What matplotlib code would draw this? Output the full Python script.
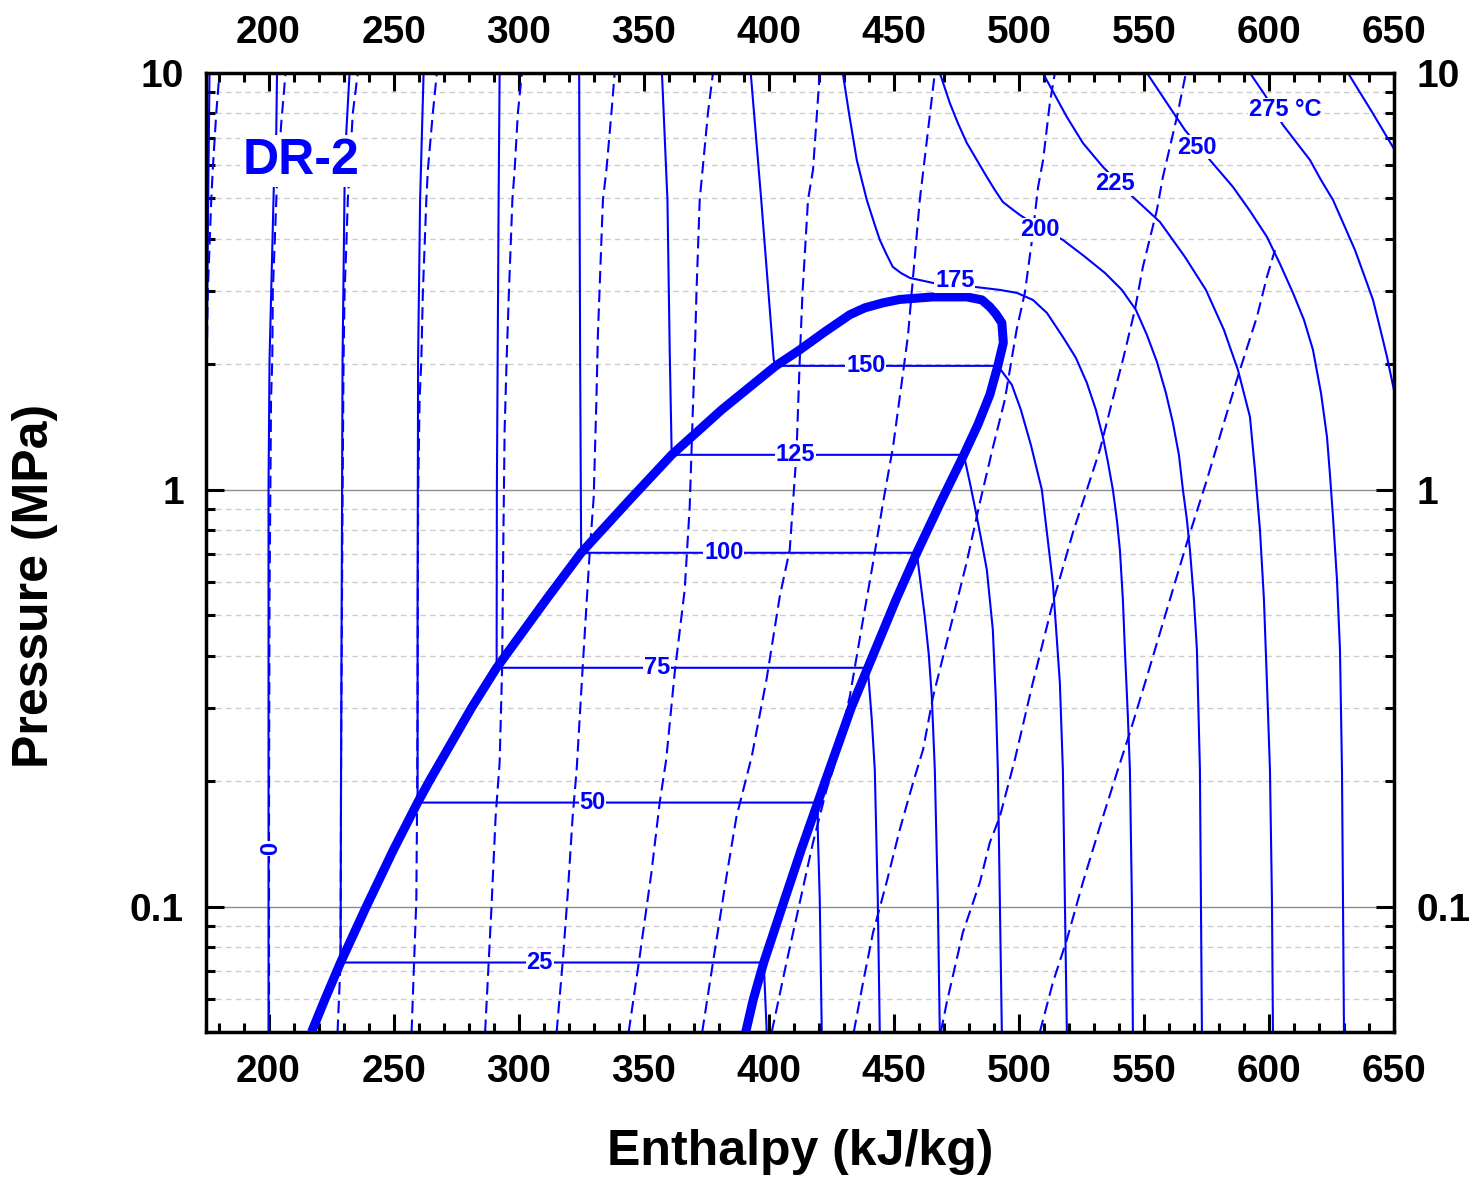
import numpy as np
import matplotlib
matplotlib.use("Agg")
import matplotlib.pyplot as plt
from matplotlib.ticker import LogLocator, MultipleLocator, FixedLocator, FixedFormatter, NullFormatter

plt.rcParams['font.family'] = ['Liberation Sans', 'DejaVu Sans']
plt.rcParams['font.weight'] = 'bold'

BLUE = '#0000ff'

# saturation dome (liquid side up over the top and back down the vapour side)
dome_h = [217.2, 222.5, 228.8, 239.1, 250.0, 259.6, 264.3, 281.2, 291.2, 311.0,
          325.0, 344.4, 361.2, 381.2, 402.8, 412.4, 422.4, 432.4, 438.4, 445.6,
          452.4, 465.6, 479.2, 485.2, 488.4, 490.8, 493.2, 493.8, 491.6, 488.4,
          483.6, 478.0, 469.2, 459.2, 450.9, 439.6, 433.0, 422.6, 419.6, 413.0,
          405.4, 398.0, 393.8, 390.8]
dome_p = [0.05, 0.0598, 0.0734, 0.1, 0.137, 0.1776, 0.2, 0.3, 0.374, 0.545,
          0.706, 0.946, 1.213, 1.556, 1.983, 2.166, 2.393, 2.63, 2.732, 2.808,
          2.862, 2.902, 2.902, 2.855, 2.747, 2.643, 2.515, 2.252, 1.983, 1.69,
          1.432, 1.213, 0.946, 0.706, 0.545, 0.374, 0.3, 0.2, 0.1776, 0.137,
          0.1, 0.0734, 0.0598, 0.05]

# isotherms, deg C
t_m25_h = [174.0, 175.2, 176.4]
t_m25_p = [0.05, 2.0, 10]
t0_h = [200.0, 200.0, 200.4, 202.1, 203.1, 203.4]
t0_p = [0.05, 1.0, 2.05, 5.3, 7.22, 10]
t25_h = [232.4, 231.1, 230.4, 229.6, 229.0, 228.8, 398.0, 399.2]
t25_p = [10, 7.22, 5.3, 2.05, 0.2131, 0.0734, 0.0734, 0.05]
t50_h = [262.0, 260.6, 259.8, 259.6, 259.6, 419.6, 419.6, 420.4, 421.2]
t50_p = [10, 4.96, 2.05, 0.545, 0.1776, 0.1776, 0.153, 0.1039, 0.05]
t75_h = [292.4, 292.0, 291.6, 291.3, 291.2, 439.6, 441.2, 442.4, 443.6, 444.4]
t75_p = [10, 5.0, 2.0, 1.0, 0.374, 0.374, 0.2809, 0.2131, 0.1039, 0.05]
t100_h = [324.2, 324.6, 325.0, 459.2, 460.8, 462.4, 464.0, 465.2, 466.4, 467.6, 468.4]
t100_p = [10, 2.0, 0.706, 0.706, 0.5916, 0.4958, 0.4019, 0.3189, 0.2131, 0.1039, 0.05]
t125_h = [357.3, 359.5, 360.4, 361.2, 478.0, 480.6, 483.2, 485.2, 487.2, 488.4,
          489.6, 490.8, 491.6, 492.4, 493.2]
t125_p = [10, 4.96, 2.17, 1.213, 1.213, 1.028, 0.8616, 0.7463, 0.6428, 0.545,
          0.4616, 0.3137, 0.2131, 0.1039, 0.05]
t150_h = [392.8, 397.0, 402.0, 402.8, 491.6, 497.2, 500.8, 504.8, 509.2, 513.6,
          516.4, 517.6, 518.4, 519.2]
t150_p = [10, 4.96, 2.05, 1.983, 1.983, 1.786, 1.556, 1.282, 1.0, 0.598,
          0.3445, 0.2131, 0.1039, 0.05]
t175_h = [429.6, 432.2, 435.2, 439.2, 442.4, 444.4, 447.2, 449.6, 452.8, 456.4,
          465.6, 474.4, 482.4, 492.4, 499.2, 505.6, 511.2, 517.6, 522.8, 527.2,
          530.8, 533.6, 535.6, 537.6, 539.2, 540.4, 541.6, 542.4, 543.6, 544.4,
          545.2, 545.6]
t175_p = [10, 7.93, 6.184, 4.96, 4.32, 3.977, 3.66, 3.426, 3.314, 3.224,
          3.136, 3.101, 3.067, 3.017, 2.968, 2.855, 2.658, 2.327, 2.073, 1.805,
          1.556, 1.34, 1.167, 1.0, 0.847, 0.718, 0.545, 0.4134, 0.2855, 0.2131,
          0.1039, 0.05]
t200_h = [468.4, 472.4, 475.6, 479.2, 483.2, 487.2, 490.4, 493.6, 497.2, 500.4,
          508.4, 517.6, 526.0, 534.4, 541.2, 546.8, 551.2, 555.2, 558.8, 561.6,
          564.0, 565.6, 567.2, 568.4, 570.0, 571.2, 572.4, 572.8, 573.2]
t200_p = [10, 8.472, 7.588, 6.794, 6.184, 5.631, 5.241, 4.905, 4.719, 4.565,
          4.249, 3.977, 3.64, 3.314, 3.017, 2.702, 2.353, 2.028, 1.708, 1.448,
          1.213, 1.0, 0.847, 0.718, 0.545, 0.4134, 0.2131, 0.1039, 0.05]
t225_h = [509.6, 514.4, 519.2, 525.6, 533.6, 545.6, 556.4, 566.4, 574.8, 582.0,
          587.6, 592.4, 594.4, 596.4, 598.0, 599.2, 600.4, 601.2, 601.6]
t225_p = [10, 8.855, 7.843, 6.794, 5.953, 5.042, 4.392, 3.621, 3.017, 2.419,
          1.939, 1.497, 1.117, 0.802, 0.545, 0.3445, 0.2131, 0.1039, 0.05]
t250_h = [551.2, 559.2, 566.4, 576.4, 585.6, 592.4, 599.2, 604.4, 609.6, 614.0,
          617.6, 620.8, 623.2, 624.4, 625.6, 627.2, 628.4, 628.8, 629.2, 629.6, 630.0]
t250_p = [10, 8.472, 7.30, 6.184, 5.33, 4.668, 4.044, 3.483, 2.968, 2.557,
          2.166, 1.708, 1.34, 1.086, 0.8616, 0.6083, 0.4134, 0.2968, 0.2131, 0.1039, 0.05]
t275_h = [592.4, 598.4, 605.6, 616.4, 620.8, 625.6, 630.0, 634.4, 638.0, 641.6,
          644.4, 647.2, 650.8]
t275_p = [10, 8.855, 7.505, 6.184, 5.538, 4.96, 4.32, 3.76, 3.279, 2.855,
          2.446, 2.084, 1.644]
t300_h = [631.6, 641.0, 650.5]
t300_p = [10, 8.1, 6.5]

isotherms = [(t_m25_h, t_m25_p), (t0_h, t0_p), (t25_h, t25_p), (t50_h, t50_p),
             (t75_h, t75_p), (t100_h, t100_p), (t125_h, t125_p), (t150_h, t150_p),
             (t175_h, t175_p), (t200_h, t200_p), (t225_h, t225_p), (t250_h, t250_p),
             (t275_h, t275_p), (t300_h, t300_p)]

# isentropes (dashed)
s1_h = [175.2, 175.3, 175.7, 176.4, 177.1, 177.7, 179.1, 180.4]
s1_p = [0.05, 2.05, 2.968, 3.826, 4.96, 5.853, 8.018, 10]
s2_h = [200.2, 200.2, 200.4, 201.0, 201.5, 201.7, 202.4, 203.3, 205.1, 206.8]
s2_p = [0.05, 0.1805, 0.545, 1.644, 2.05, 2.968, 3.826, 5.3, 7.588, 10]
s3_h = [227.6, 228.8, 229.0, 229.6, 230.0, 230.4, 231.1, 231.7, 232.4, 233.7, 235.7]
s3_p = [0.05, 0.0734, 0.2131, 0.946, 2.05, 2.968, 3.826, 4.96, 5.853, 8.018, 10]
s4_h = [257.2, 259.1, 259.4, 259.6, 259.8, 260.4, 261.1, 261.7, 262.4, 263.1, 263.7, 265.7, 267.3]
s4_p = [0.05, 0.1039, 0.1776, 0.3137, 0.946, 1.644, 2.05, 2.968, 3.826, 4.96, 5.853, 8.018, 10]
s5_h = [286.6, 289.1, 290.8, 292.4, 293.4, 293.8, 294.4, 295.2, 296.1, 296.8, 297.5, 298.4, 299.7, 301.3]
s5_p = [0.05, 0.0984, 0.1643, 0.2215, 0.374, 0.6795, 1.393, 2.05, 2.968, 3.826, 4.96, 5.853, 8.018, 10]
s6_h = [315.2, 317.6, 319.6, 321.6, 323.2, 325.6, 328.4, 330.0, 331.1, 331.7, 333.7, 335.1, 337.1, 338.4]
s6_p = [0.05, 0.0734, 0.1066, 0.1643, 0.2131, 0.374, 0.706, 0.9566, 1.644, 2.366, 4.96, 5.853, 8.018, 10]
s7_h = [344.0, 348.4, 353.1, 356.4, 359.0, 362.4, 366.4, 368.4, 369.7, 370.6, 371.1, 372.4, 375.7, 377.7]
s7_p = [0.05, 0.0759, 0.1207, 0.1776, 0.2252, 0.364, 0.5757, 0.9105, 1.581, 2.289, 2.968, 4.96, 8.018, 10]
s8_h = [373.4, 377.7, 383.1, 387.1, 393.2, 399.1, 404.4, 408.4, 411.1, 412.4, 413.5, 415.7, 417.7, 420.4]
s8_p = [0.05, 0.0734, 0.118, 0.1643, 0.229, 0.3503, 0.554, 0.718, 1.227, 2.05, 2.968, 4.96, 5.853, 10]
s9_h = [401.2, 407.1, 412.4, 417.7, 423.1, 425.7, 432.4, 437.7, 441.7, 445.7, 449.7,
        453.7, 455.7, 457.7, 460.4, 463.1, 466.4]
s9_p = [0.05, 0.0734, 0.1022, 0.1424, 0.1908, 0.2131, 0.3189, 0.4879, 0.668, 0.931, 1.268,
        1.908, 2.353, 3.242, 4.96, 6.794, 10]
s10_h = [434.0, 437.7, 441.7, 447.1, 452.4, 457.7, 461.7, 465.7, 472.4, 479.1, 484.4,
         489.7, 494.4, 499.1, 502.4, 505.1, 507.7, 509.7, 512.4, 514.4]
s10_p = [0.05, 0.0657, 0.0866, 0.1142, 0.153, 0.1983, 0.2379, 0.3189, 0.4616, 0.668, 0.931,
         1.268, 1.644, 2.419, 2.968, 3.911, 5.33, 6.184, 8.472, 10]
s11_h = [468.8, 471.2, 477.6, 484.4, 488.4, 492.4, 498.4, 505.6, 513.6, 521.6, 527.2,
         532.4, 539.2, 541.6, 546.4, 549.6, 555.2, 557.6, 560.4, 563.2, 566.8]
s11_p = [0.05, 0.0589, 0.0866, 0.1142, 0.1424, 0.1643, 0.2252, 0.3445, 0.5358, 0.7887, 1.0,
         1.247, 1.805, 2.05, 2.702, 3.426, 4.693, 5.631, 6.644, 7.843, 10]
s12_h = [508.4, 513.6, 519.2, 525.6, 532.4, 539.6, 544.4, 551.2, 559.2, 567.2, 575.2,
         583.2, 588.4, 595.2, 599.2, 602.4]
s12_p = [0.05, 0.0657, 0.0833, 0.1142, 0.1555, 0.2131, 0.2614, 0.356, 0.5158, 0.7463, 1.057,
         1.530, 1.939, 2.600, 3.242, 3.76]

isentropes = [(s1_h, s1_p), (s2_h, s2_p), (s3_h, s3_p), (s4_h, s4_p), (s5_h, s5_p),
              (s6_h, s6_p), (s7_h, s7_p), (s8_h, s8_p), (s9_h, s9_p), (s10_h, s10_p),
              (s11_h, s11_p), (s12_h, s12_p)]

# inline temperature labels: text, enthalpy, pressure, rotation
label_text = ['0', '25', '50', '75', '100', '125', '150', '175', '200', '225', '250', '275 \u00b0C']
label_h = [200.8, 308.4, 329.6, 355.2, 382.0, 410.8, 438.8, 474.4, 508.4, 538.4, 571.2, 606.4]
label_p = [0.1377, 0.0734, 0.1776, 0.374, 0.706, 1.213, 1.983, 3.17, 4.202, 5.418, 6.644, 8.152]
label_rot = [90, 0, 0, 0, 0, 0, 0, 0, 0, 0, 0, 0]

x_ticks = [200, 250, 300, 350, 400, 450, 500, 550, 600, 650]
y_ticks = [0.1, 1, 10]
y_tick_labels = ['0.1', '1', '10']

fig = plt.figure(figsize=(14.79, 11.88), dpi=100)
ax = fig.add_axes([206 / 1479, 1 - 1032 / 1188, 1188 / 1479, 959 / 1188])

for h, p in isotherms:
    ax.plot(h, p, color=BLUE, lw=1.5, zorder=2, solid_joinstyle='round')
for h, p in isentropes:
    ax.plot(h, p, color=BLUE, lw=1.5, ls=(0, (6, 3)), zorder=2)
ax.plot(dome_h, dome_p, color=BLUE, lw=6.5, zorder=3,
        solid_joinstyle='round', solid_capstyle='butt')

for txt, h, p, r in zip(label_text, label_h, label_p, label_rot):
    ax.text(h, p, txt, color=BLUE, fontsize=17, fontweight='bold', rotation=r,
            ha='center', va='center', zorder=5,
            bbox=dict(facecolor='white', edgecolor='none', pad=0.5))

ax.text(0.080, 0.908, 'DR-2', transform=ax.transAxes, color=BLUE, fontsize=36,
        fontweight='bold', ha='center', va='center', zorder=5,
        bbox=dict(facecolor='white', edgecolor='none', pad=2))

ax.set_xlim(175, 650)
ax.set_yscale('log')
ax.set_ylim(0.05, 10)

ax.xaxis.set_major_locator(FixedLocator(x_ticks))
ax.xaxis.set_minor_locator(MultipleLocator(10))
ax.yaxis.set_major_locator(FixedLocator(y_ticks))
ax.yaxis.set_major_formatter(FixedFormatter(y_tick_labels))
ax.yaxis.set_minor_locator(LogLocator(base=10, subs=np.arange(2, 10)))
ax.yaxis.set_minor_formatter(NullFormatter())

ax.tick_params(which='both', direction='in', top=True, right=True,
               labeltop=True, labelright=True, labelsize=28, width=2.2)
ax.tick_params(which='major', length=13, pad=16)
ax.tick_params(which='minor', length=6.5)
for lab in ax.get_xticklabels() + ax.get_yticklabels():
    lab.set_fontweight('bold')
for sp in ax.spines.values():
    sp.set_linewidth(2.5)

ax.set_axisbelow(True)
ax.yaxis.grid(True, which='major', color='#8c8c8c', lw=1.0, ls='-')
ax.yaxis.grid(True, which='minor', color='#cccccc', lw=1.0, ls=(0, (4, 3)))

fig.text(800 / 1479, 1 - 1152 / 1188, 'Enthalpy (kJ/kg)', fontsize=36,
         fontweight='bold', ha='center', va='center')
fig.text(35 / 1479, 1 - 586 / 1188, 'Pressure (MPa)', fontsize=36,
         fontweight='bold', ha='center', va='center', rotation=90)

fig.savefig('out.png', dpi=100)
